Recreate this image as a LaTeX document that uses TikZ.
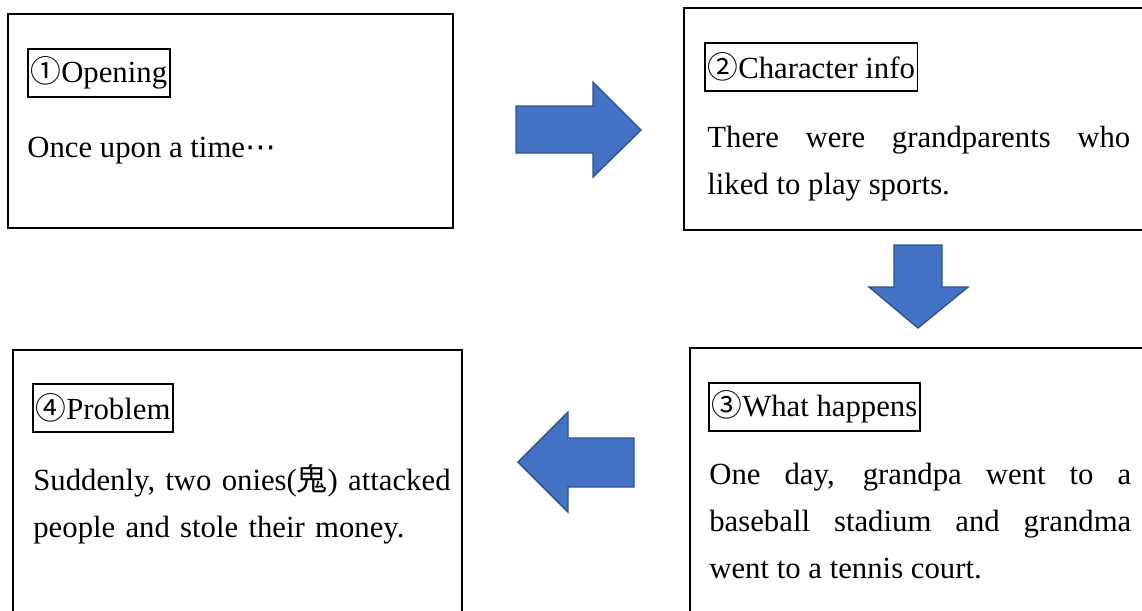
\documentclass[tikz,border=0pt]{standalone}
\usepackage{fontspec}
\setmainfont{Liberation Serif}
\newfontfamily\cjk{Noto Sans CJK JP}
\newfontfamily\symb{DejaVu Sans}
\definecolor{arrowblue}{HTML}{4472C4}
\definecolor{arrowedge}{HTML}{2F528F}

\begin{document}
\begin{tikzpicture}[x=0.02cm,y=-0.02cm,font=\fontsize{17.5}{26.6}\selectfont,
frame/.style={draw,line width=1.1pt,anchor=north west,inner sep=0pt},
tag/.style={draw,line width=1pt,anchor=north west,inner xsep=1.5pt,inner ysep=0pt,minimum height=0.96cm},
body/.style={anchor=north west,inner sep=0pt,align=justify},
blockarrow/.style={fill=arrowblue,draw=arrowedge,line width=0.8pt,line join=miter}]
\clip (0,0) rectangle (1142,610);
% four panels
\node[frame,minimum width=8.9cm,minimum height=4.28cm](a) at (7,13){};
\node[frame,minimum width=9.6cm,minimum height=4.44cm](b) at (683,7){};
\node[frame,minimum width=9.6cm,minimum height=5.8cm](c) at (689,347){};
\node[frame,minimum width=8.98cm,minimum height=5.8cm](d) at (12,349){};
% headings
\node[tag](ta) at (27,48){{\cjk ①}Opening};
\node[tag](tb) at (704,42){{\cjk ②}Character info};
\node[tag](tc) at (708,382){{\cjk ③}What happens};
\node[tag](td) at (32,383){{\cjk ④}Problem};
% texts
\node[body,text width=8cm](xa) at (27,137){Once upon a time{\symb ⋯}};
\node[body,text width=8.46cm](xb) at (707,126){There were grandparents who\linebreak liked to play sports.};
\node[body,text width=8.44cm](xc) at (709,463){One day, grandpa went to a\linebreak baseball stadium and grandma\linebreak went to a tennis court.};
\node[body,text width=8.8cm,align=left](xd) at (33,464){Suddenly, two onies({\cjk 鬼}) attacked\\people and stole their money.};
% block arrows
\draw[blockarrow](516,106)--(593,106)--(593,82)--(641,130)--(593,177)--(593,153)--(516,153)--cycle;
\draw[blockarrow](894,245)--(942,245)--(942,287)--(968,287)--(918,328)--(869,287)--(894,287)--cycle;
\draw[blockarrow](634,438)--(568,438)--(568,412)--(518,462)--(568,512)--(568,487)--(634,487)--cycle;
\end{tikzpicture}
\end{document}
